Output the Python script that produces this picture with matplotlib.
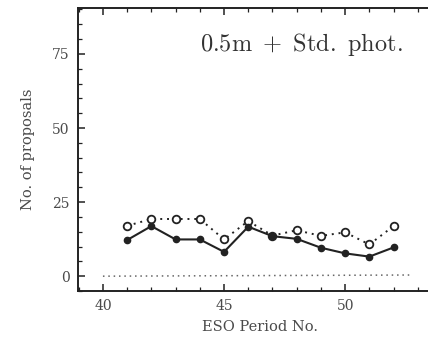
import matplotlib
matplotlib.use("Agg")
import matplotlib.pyplot as plt
from matplotlib.ticker import MultipleLocator

periods = [41, 42, 43, 44, 45, 46, 47, 48, 49, 50, 51, 52]
solid_vals = [12.2, 16.9, 12.4, 12.4, 8.2, 16.7, 13.5, 12.6, 9.6, 7.7, 6.6, 9.7]
dotted_vals = [17.0, 19.3, 19.3, 19.3, 12.4, 18.6, 13.7, 15.5, 13.6, 14.8, 10.7, 16.9]
base_x = [40, 52.8]
base_vals = [0, 0.4]

plt.rcParams['mathtext.fontset'] = 'cm'
tick_font = 'DejaVu Serif'
txtc = '#4a4a4a'
linec = '#222222'

fig = plt.figure(figsize=(4.28, 3.39), dpi=100)
ax = fig.add_axes([78/428, 48/339, 364/428, 283/339])
ax.set_xlim(38.97, 54)
ax.set_ylim(-5, 90.5)

ax.plot(base_x, base_vals, linestyle=(0, (1, 2.5)), color='#666666', lw=1.1)
ax.plot(periods, dotted_vals, linestyle=(0, (1, 2.5)), color=linec, lw=1.4,
        marker='o', ms=5.5, mfc='white', mec=linec, mew=1.3)
ax.plot(periods, solid_vals, linestyle='-', color=linec, lw=1.5,
        marker='o', ms=4.5, mfc=linec, mec=linec)

for s in ['left', 'bottom', 'top']:
    ax.spines[s].set_linewidth(1.4)
    ax.spines[s].set_color(linec)
ax.spines['right'].set_visible(False)

ax.xaxis.set_major_locator(MultipleLocator(5))
ax.xaxis.set_minor_locator(MultipleLocator(1))
ax.yaxis.set_major_locator(MultipleLocator(25))
ax.yaxis.set_minor_locator(MultipleLocator(5))
ax.tick_params(which='both', direction='in', top=True, right=False, color=linec,
               labelcolor=txtc, labelsize=10, pad=6)
ax.tick_params(which='major', length=5, width=1.1)
ax.tick_params(which='minor', length=3, width=0.9)
for lab in ax.get_xticklabels() + ax.get_yticklabels():
    lab.set_fontfamily(tick_font)

ax.set_xlabel('ESO Period No.', family=tick_font, fontsize=10.5, color=txtc, labelpad=5)
ax.set_ylabel('No. of proposals', family=tick_font, fontsize=10.5, color=txtc, labelpad=12)

ax.text(0.893, 0.872, r'$\mathrm{0.5m\ +\ Std.\ phot.}$', transform=ax.transAxes,
        ha='right', va='center', fontsize=17.5, color='#333333')

fig.savefig('out.png', dpi=100)
